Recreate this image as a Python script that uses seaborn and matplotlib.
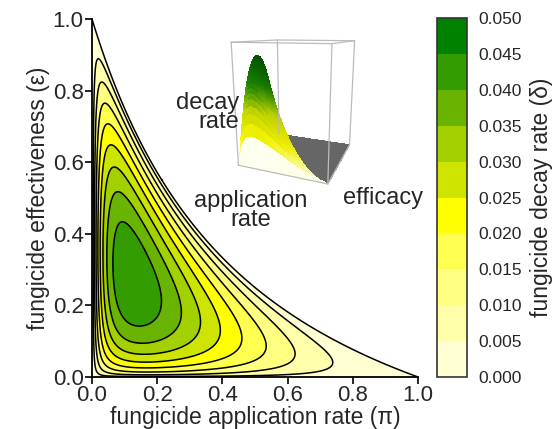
import numpy as np
import matplotlib
matplotlib.use("Agg")
import matplotlib.pyplot as plt
import seaborn as sns
from matplotlib.colors import ListedColormap, BoundaryNorm, LightSource, LinearSegmentedColormap

sns.set_style("ticks")
plt.rcParams['font.family'] = ['Liberation Sans', 'DejaVu Sans']

# ---- data ----
levels = [0.000, 0.005, 0.010, 0.015, 0.020, 0.025, 0.030, 0.035, 0.040, 0.045, 0.050]
band_colors = ["#FFFFD2", "#FFFFAA", "#FFFF82", "#FFFF50", "#FFFF00",
               "#CCE400", "#A2D000", "#68B400", "#339C00", "#008200"]
x_ticks = [0.0, 0.2, 0.4, 0.6, 0.8, 1.0]
y_ticks = [0.0, 0.2, 0.4, 0.6, 0.8, 1.0]
cbar_labels = ["0.000", "0.005", "0.010", "0.015", "0.020", "0.025",
               "0.030", "0.035", "0.040", "0.045", "0.050"]

# surface model parameters (estimated from the contour shapes)
peak_delta = 0.0445      # maximum decay rate
sat_k = 0.064            # saturation constant in application rate
eps_exp = 0.5            # exponent on effectiveness
edge_exp = 0.8           # exponent on distance to the zero boundary
rate_exp = 0.5           # extra decline with application rate
coupling = 2.0           # boundary: pi + eps + 2*pi*eps = 1

def surface(n):
    p = np.linspace(0, 1, n)
    e = np.linspace(0, 1, n)
    P, E = np.meshgrid(p, e)
    G = 1 - P - E - coupling * P * E
    raw = (P / (P + sat_k) * E ** eps_exp * np.clip(G, 0, None) ** edge_exp
           * (1 - P) ** rate_exp)
    D = peak_delta * raw / raw.max()
    return P, E, G, D

W, H = 554, 429
fig = plt.figure(figsize=(W / 100, H / 100), dpi=100)

ax = fig.add_axes([92 / W, 1 - 377 / H, (418 - 92) / W, (377 - 19) / H])
P, E, G, D = surface(701)
Dm = np.where(G > 0, D, -1.0)
cs = ax.contourf(P, E, Dm, levels=levels, colors=band_colors)
ax.contour(P, E, Dm, levels=levels[1:-1], colors="black", linewidths=1.1)
ax.contour(P, E, G, levels=[0.0], colors="black", linewidths=1.1)

ax.set_xlim(0, 1)
ax.set_ylim(0, 1)
ax.set_xticks(x_ticks)
ax.set_yticks(y_ticks)
ax.set_xticklabels([f"{v:.1f}" for v in x_ticks])
ax.set_yticklabels([f"{v:.1f}" for v in y_ticks])
ax.tick_params(labelsize=16, length=5, width=1.2, color="black", pad=1)
sns.despine(ax=ax)
for s in ["left", "bottom"]:
    ax.spines[s].set_linewidth(1.3)
    ax.spines[s].set_color("black")
ax.set_xlabel("fungicide application rate (π)", fontsize=16.5, labelpad=0)
ax.set_ylabel("fungicide effectiveness (ε)", fontsize=16.5, labelpad=2)

# colorbar
cax = fig.add_axes([437 / W, 1 - 377 / H, 30 / W, (377 - 18) / H])
cmap = ListedColormap(band_colors)
norm = BoundaryNorm(levels, cmap.N)
sm = plt.cm.ScalarMappable(norm=norm, cmap=cmap)
cb = fig.colorbar(sm, cax=cax, ticks=levels)
cb.ax.set_yticklabels(cbar_labels)
cb.ax.tick_params(labelsize=12.5, length=0, pad=8)
cb.outline.set_edgecolor("#333333")
cb.outline.set_linewidth(1.2)
cb.set_label("fungicide decay rate (δ)", fontsize=16.5, labelpad=6)

# inset 3D surface
ax3 = fig.add_axes([0.385, 0.50, 0.30, 0.52], projection="3d")
ax3.set_facecolor("none")
ax3.set_axis_off()
P3, E3, G3, D3 = surface(90)
Z3 = np.where(G3 > 0, D3, 0.0)
surf_cmap = LinearSegmentedColormap.from_list(
    "yg", ["#FFFFE8", "#F0F000", "#C8D800", "#1E8C00", "#006400"])
rgb = surf_cmap(Z3 / peak_delta)[..., :3]
ls = LightSource(azdeg=300, altdeg=35)
shaded = ls.shade_rgb(rgb, Z3, vert_exag=12, blend_mode="soft")
fc = np.ones(Z3.shape + (4,))
fc[..., :3] = shaded
fc[G3 <= 0, :3] = (0.40, 0.40, 0.40)
ax3.plot_surface(P3, E3, Z3, facecolors=fc, rstride=1, cstride=1,
                 linewidth=0, antialiased=False, shade=False)
zt = 0.05
edges = [([0, 1], [0, 0], [0, 0]), ([1, 1], [0, 1], [0, 0]),
         ([0, 0], [0, 0], [0, zt]), ([1, 1], [0, 0], [0, zt]), ([1, 1], [1, 1], [0, zt]),
         ([0, 0], [1, 1], [0, zt]),
         ([0, 1], [0, 0], [zt, zt]), ([1, 1], [0, 1], [zt, zt]),
         ([0, 1], [1, 1], [zt, zt]), ([0, 0], [0, 1], [zt, zt])]
for xs, ys, zs in edges:
    ax3.plot(xs, ys, zs, color="#BBBBBB", linewidth=0.9)
ax3.set_xlim(0, 1)
ax3.set_ylim(0, 1)
ax3.set_zlim(0, zt)
ax3.set_box_aspect((1, 1, 1.3))
ax3.set_proj_type("persp", focal_length=0.3)
ax3.view_init(elev=14, azim=-68)

fig.text(239 / W, 1 - 92 / H, "decay\nrate", ha="right", va="top",
         multialignment="right", linespacing=0.85, fontsize=17)
fig.text(251 / W, 1 - 190 / H, "application\nrate", ha="center", va="top",
         multialignment="center", linespacing=0.85, fontsize=17)
fig.text(343 / W, 1 - 187 / H, "efficacy", ha="left", va="top", fontsize=17)

fig.savefig("out.png", dpi=100)
